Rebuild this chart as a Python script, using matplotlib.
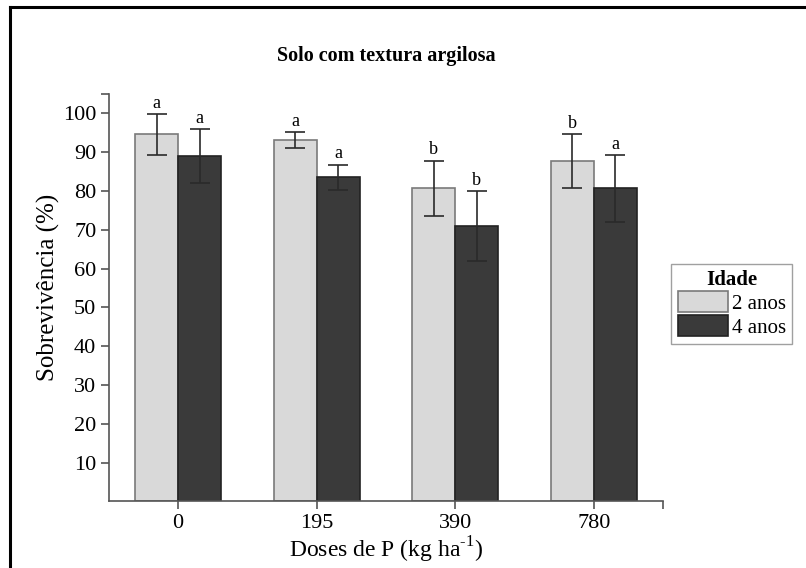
import matplotlib
matplotlib.use('Agg')
import matplotlib.pyplot as plt
from matplotlib.lines import Line2D
import numpy as np

plt.rcParams['font.family'] = ['Liberation Serif', 'DejaVu Serif']
plt.rcParams['mathtext.fontset'] = 'custom'
plt.rcParams['mathtext.rm'] = 'Liberation Serif'

# Sobrevivência por dose de P e idade
doses = ['0', '195', '390', '780']
sobrev_2 = [94.6, 93.2, 80.7, 87.7]
erro_2 = [5.2, 2.0, 7.1, 6.9]
letras_2 = ['a', 'a', 'b', 'b']
sobrev_4 = [89.0, 83.5, 71.0, 80.7]
erro_4 = [7.0, 3.3, 9.0, 8.6]
letras_4 = ['a', 'a', 'b', 'a']
yticks = [10, 20, 30, 40, 50, 60, 70, 80, 90, 100]

fig = plt.figure(figsize=(8.06, 5.68), dpi=100)
ax = fig.add_axes([0.135, 0.1173, 0.6876, 0.7172])

x = np.arange(len(doses))
w = 0.31
err_kw = dict(ecolor='#2a2a2a', elinewidth=1.2, capsize=7, capthick=1.2)
b2 = ax.bar(x - w/2, sobrev_2, w, yerr=erro_2, color='#d9d9d9',
            edgecolor='#7a7a7a', linewidth=1.2, error_kw=err_kw, label='2 anos')
b4 = ax.bar(x + w/2, sobrev_4, w, yerr=erro_4, color='#3a3a3a',
            edgecolor='#222222', linewidth=1.2, error_kw=err_kw, label='4 anos')

# letras acima das barras de erro
for i in range(len(doses)):
    ax.text(x[i] - w/2, sobrev_2[i] + erro_2[i] + 0.6, letras_2[i],
            ha='center', va='bottom', fontsize=13)
    ax.text(x[i] + w/2, sobrev_4[i] + erro_4[i] + 0.6, letras_4[i],
            ha='center', va='bottom', fontsize=13)

ax.set_xlim(-0.5, 3.5)
ax.set_ylim(0, 105)
ax.set_xticks(x)
ax.set_xticklabels(doses)
ax.set_xticks([3.5], minor=True)
ax.set_yticks(yticks)
ax.set_yticks([105], minor=True)
for s in ['top', 'right']:
    ax.spines[s].set_visible(False)
for s in ['left', 'bottom']:
    ax.spines[s].set_color('#555555')
    ax.spines[s].set_linewidth(1.2)
ax.tick_params(which='both', direction='out', length=6, width=1.2,
               color='#555555', labelsize=16, pad=3)

ax.set_title('Solo com textura argilosa', fontsize=14.5, fontweight='bold', pad=24)
ax.set_ylabel('Sobrevivência (%)', fontsize=18)
ax.yaxis.set_label_coords(-0.088, 0.526)
ax.set_xlabel('Doses de P (kg ha$^{\\text{-1}}$)', fontsize=17, labelpad=1)

leg = ax.legend(title='Idade', loc='center left', bbox_to_anchor=(1.015, 0.485),
                fontsize=15, title_fontproperties={'weight': 'bold', 'size': 15},
                frameon=True, fancybox=False, edgecolor='#888888',
                handlelength=2.4, handleheight=1.2, handletextpad=0.2,
                borderpad=0.3, labelspacing=0.05, borderaxespad=0)
leg.get_frame().set_linewidth(1.0)

# moldura externa
fig.add_artist(Line2D([10/806, 1], [1 - 7/568, 1 - 7/568], color='black', lw=2.2))
fig.add_artist(Line2D([10/806, 10/806], [0, 1 - 7/568], color='black', lw=2.2))

fig.savefig('out.png', dpi=100)
